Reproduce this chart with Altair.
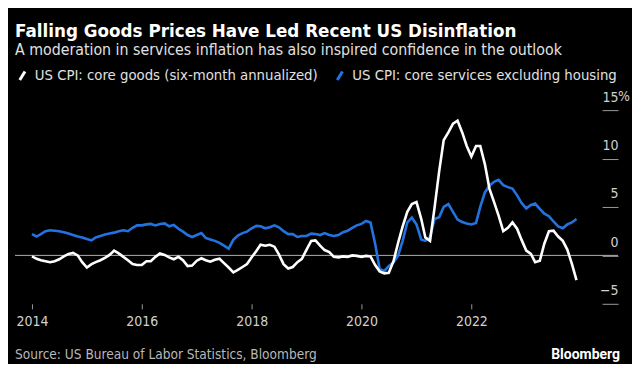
import altair as alt
import pandas as pd

TITLE = "Falling Goods Prices Have Led Recent US Disinflation"
SUBTITLE = "A moderation in services inflation has also inspired confidence in the outlook"
SOURCE = "Source: US Bureau of Labor Statistics, Bloomberg"
BRAND = "Bloomberg"
GOODS = "US CPI: core goods (six-month annualized)"
SERVICES = "US CPI: core services excluding housing"

goods = [
    -0.1, -0.35, -0.5, -0.6, -0.7, -0.6, -0.4, -0.1, 0.15, 0.25, 0.0, -0.7,
    -1.25, -0.9, -0.7, -0.5, -0.25, 0.05, 0.5, 0.2, -0.15, -0.5, -0.9, -1.0,
    -1.0, -0.6, -0.6, -0.15, 0.2, 0.05, -0.2, -0.4, -0.15, -0.5, -1.1, -1.05,
    -0.55, -0.3, -0.5, -0.65, -0.45, -0.35, -0.8, -1.25, -1.75, -1.5, -1.2, -0.9,
    -0.2, 0.45, 1.1, 1.0, 1.1, 0.9, 0.1, -0.9, -1.35, -1.2, -0.7, -0.35,
    0.6, 1.5, 1.55, 1.0, 0.55, 0.35, -0.15, -0.2, -0.1, -0.15, 0.0, -0.05,
    -0.15, -0.05, -0.1, -1.0, -1.65, -1.85, -1.8, -0.6, 1.3, 3.0, 4.5, 5.3,
    5.5, 3.8, 1.85, 1.5, 4.9, 8.7, 11.9, 12.7, 13.6, 13.9, 12.7, 11.3,
    10.2, 11.3, 11.3, 9.4, 6.9, 5.5, 4.1, 2.5, 2.85, 3.4, 2.75, 1.6,
    0.5, 0.15, -0.7, -0.55, 1.2, 2.5, 2.55, 1.95, 1.5, 0.6, -0.9, -2.55,
]
services = [
    2.2, 1.95, 2.2, 2.5, 2.6, 2.55, 2.5, 2.4, 2.25, 2.1, 1.95, 1.85,
    1.7, 1.55, 1.85, 2.0, 2.15, 2.25, 2.35, 2.5, 2.6, 2.5, 2.85, 3.1,
    3.1, 3.2, 3.25, 3.1, 3.25, 3.3, 3.0, 3.15, 2.75, 2.45, 2.1, 1.9,
    2.1, 2.3, 1.8, 1.65, 1.5, 1.3, 1.0, 0.7, 1.6, 2.05, 2.3, 2.45,
    2.8, 3.05, 3.0, 2.8, 2.9, 3.1, 2.9, 2.5, 2.2, 2.2, 1.9, 2.0,
    2.0, 2.25, 2.2, 2.1, 2.3, 2.1, 2.0, 2.1, 2.4, 2.55, 2.85, 3.1,
    3.25, 3.55, 3.4, 1.2, -1.4, -1.6, -1.1, -0.75, 0.0, 1.5, 3.4, 3.9,
    3.2, 1.65, 1.5, 1.9, 3.75, 3.95, 5.0, 5.3, 4.5, 3.7, 3.45, 3.3,
    3.2, 3.35, 5.0, 6.5, 7.2, 7.6, 7.8, 7.25, 7.05, 6.9, 6.2, 5.4,
    4.85, 5.2, 5.35, 4.8, 4.3, 4.05, 3.5, 3.0, 2.8, 3.2, 3.4, 3.75,
]
months = pd.date_range("2014-01-01", periods=len(goods), freq="MS")
x_domain = ["2013-09-10", "2024-05-19"]
x_ticks = ["2014-01-01", "2016-01-01", "2018-01-01", "2020-01-01", "2022-01-01"]
y_ticks = [-5, 0, 5, 10, 15]
y_domain = [-5, 15]

df = pd.DataFrame({
    "date": list(months) + list(months),
    "value": goods + services,
    "series": [GOODS] * len(goods) + [SERVICES] * len(services),
})

W, H = 588, 194
NARROW = "Liberation Sans Narrow, DejaVu Sans Condensed, Arial Narrow, sans-serif"

x_enc = alt.X(
    "date:T",
    scale=alt.Scale(domain=x_domain),
    axis=alt.Axis(
        values=x_ticks, format="%Y", title=None, domain=False, grid=False,
        tickSize=5, tickColor="#9a9a9a", labelColor="#d0d0d0",
        labelFontSize=14, labelFont=NARROW, labelPadding=6,
    ),
)
y_enc = alt.Y(
    "value:Q",
    scale=alt.Scale(domain=y_domain, nice=False),
    axis=alt.Axis(
        orient="right", values=y_ticks, title=None, domain=False, grid=False,
        tickSize=16, tickColor="#9a9a9a", labelColor="#d0d0d0",
        labelFontSize=14, labelFont=NARROW, labelAlign="right",
        labelPadding=0, labelBaseline="alphabetic", labelOffset=-9,
    ),
)
color_enc = alt.Color(
    "series:N",
    scale=alt.Scale(domain=[GOODS, SERVICES], range=["#ffffff", "#2273e0"]),
    legend=alt.Legend(
        title=None, orient="none", legendX=0, legendY=-42, direction="horizontal",
        symbolType="M-0.55,0.9L0.55,-0.9", symbolStrokeWidth=3, symbolSize=90,
        labelFontSize=14.8, labelFont=NARROW, labelColor="#e0e0e0", labelLimit=400,
        columnPadding=12, labelOffset=5, symbolOffset=0,
    ),
)

base = alt.Chart(df)
zero = alt.Chart(pd.DataFrame({"v": [0]})).mark_rule(color="#b0b0b0", strokeWidth=1).encode(
    y=alt.Y("v:Q"), x=alt.value(0), x2=alt.value(W + 16)
)
blue = base.transform_filter(alt.datum.series == SERVICES).mark_line(strokeWidth=2.6).encode(
    x=x_enc, y=y_enc, color=color_enc
)
white = base.transform_filter(alt.datum.series == GOODS).mark_line(strokeWidth=2.6).encode(
    x=x_enc, y=y_enc, color=color_enc
)
pct = alt.Chart(pd.DataFrame({"v": [15], "t": ["%"]})).mark_text(
    align="left", baseline="alphabetic", dy=-9, fontSize=14, font=NARROW, color="#d0d0d0"
).encode(y=alt.Y("v:Q"), x=alt.value(W + 16), text="t:N")
src = alt.Chart(pd.DataFrame({"t": [SOURCE]})).mark_text(
    align="left", baseline="middle", fontSize=13.6, font=NARROW, color="#b8b8b8"
).encode(x=alt.value(0), y=alt.value(H + 51), text="t:N")
brand = alt.Chart(pd.DataFrame({"t": [BRAND]})).mark_text(
    align="right", baseline="middle", fontSize=14, font="Roboto", fontWeight="bold", color="#ffffff"
).encode(x=alt.value(W + 18), y=alt.value(H + 51), text="t:N")

chart = alt.layer(zero, blue, white, pct, src, brand).resolve_scale(y="shared").properties(
    width=W, height=H,
    background="#000000",
    padding={"left": 6, "top": 15, "right": 2, "bottom": 2},
    title=alt.TitleParams(
        text=TITLE, subtitle=SUBTITLE, anchor="start", frame="group",
        font="DejaVu Sans", fontSize=16.8, fontWeight="bold", color="#ffffff",
        subtitleFont=NARROW, subtitleFontSize=15.8, subtitleColor="#e0e0e0",
        subtitlePadding=3, offset=10,
    ),
).configure_view(stroke=None)

chart.save("out.html", embed_options={"renderer": "svg", "actions": False})
